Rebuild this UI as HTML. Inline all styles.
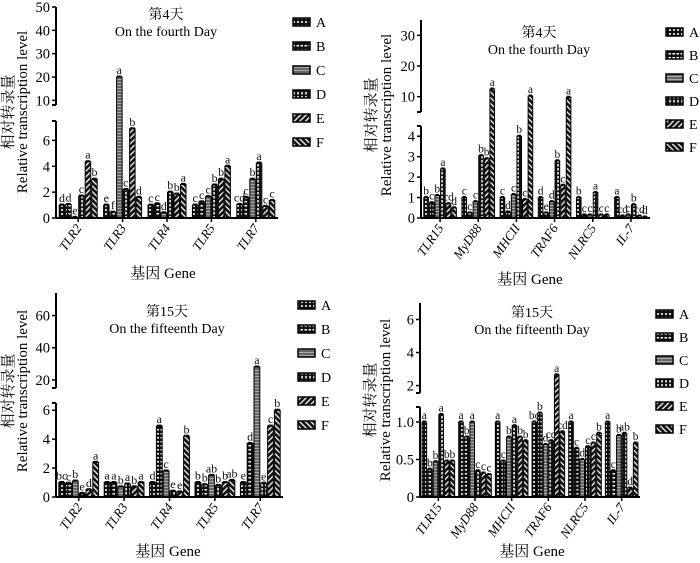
<!DOCTYPE html>
<html><head><meta charset="utf-8">
<style>
html,body{margin:0;padding:0;background:#fff;}
svg{display:block;font-family:"Liberation Serif","Noto Serif CJK SC",serif;}
</style></head>
<body>
<svg id="chart" width="700" height="563" viewBox="0 0 700 563" xmlns="http://www.w3.org/2000/svg">
<defs>
<pattern id="pA" width="4" height="4" patternUnits="userSpaceOnUse"><rect width="4" height="4" fill="#111"/><rect x="1" y="1" width="2" height="2" fill="#ccc"/></pattern>
<pattern id="pB" width="4" height="4" patternUnits="userSpaceOnUse"><rect width="4" height="4" fill="#111"/><rect x="0.5" y="1" width="2.5" height="1.5" fill="#fff"/></pattern>
<pattern id="pC" width="4" height="3" patternUnits="userSpaceOnUse"><rect width="4" height="3" fill="#666"/><rect y="1" width="4" height="1" fill="#aaa"/></pattern>
<pattern id="pD" width="4" height="4" patternUnits="userSpaceOnUse"><rect width="4" height="4" fill="#111"/><rect x="1.3" y="0" width="1.5" height="2.5" fill="#fff"/></pattern>
<pattern id="pE" width="4" height="4" patternUnits="userSpaceOnUse" patternTransform="rotate(45)"><rect width="4" height="4" fill="#111"/><rect x="1" width="1.5" height="4" fill="#ddd"/></pattern>
<pattern id="pF" width="4" height="4" patternUnits="userSpaceOnUse" patternTransform="rotate(-45)"><rect width="4" height="4" fill="#111"/><rect x="1" width="1.5" height="4" fill="#ddd"/></pattern>
</defs>
</svg>
<script>
const seriesNames=['A','B','C','D','E','F'];
// Panel 1
const p1Genes=['TLR2','TLR3','TLR4','TLR5','TLR7'];
const p1Values=[[1.0,1.05,0.05,1.7,4.35,3.0],[1.0,0.45,20,2.2,6.9,1.6],[1.0,1.1,0.4,2.0,1.85,2.6],[1.0,1.25,1.65,2.55,3.0,4.0],[1.05,1.6,3.0,4.25,0.9,1.35]];
const p1Letters=[['d','d','e','c','a','b'],['e','f','a','c','b','d'],['c','c','d','b','b','a'],['c','c','c','b','b','a'],['cd','c','b','a','c','c']];
const p1LowTicks=[0,2,4,6];
const p1HighTicks=[10,20,30,40,50];
// Panel 2
const p2Genes=['TLR15','MyD88','MHCII','TRAF6','NLRC5','IL-7'];
const p2Values=[[1.0,0.75,1.1,2.4,0.7,0.5],[1.0,0.25,0.8,3.05,2.9,12.5],[1.0,0.3,1.15,4.0,0.9,10.2],[1.0,0.25,0.8,2.8,1.6,9.8],[1.0,0.15,0.15,1.25,0.15,0.15],[1.0,0.1,0.15,0.65,0.1,0.05]];
const p2Letters=[['b','c','b','a','cd','d'],['c','c','c','b','b','a'],['c','d','c','b','c','a'],['d','e','d','b','c','a'],['b','c','c','a','c','c'],['a','cd','c','b','cd','d']];
const p2LowTicks=[0,1,2,3,4];
const p2HighTicks=[10,20,30];
// Panel 3
const p3Genes=['TLR2','TLR3','TLR4','TLR5','TLR7'];
const p3Values=[[1.0,0.95,1.1,0.25,0.5,2.4],[1.0,1.0,0.7,0.9,0.7,1.0],[1.0,4.9,1.8,0.4,0.35,4.2],[1.0,0.85,1.5,0.8,1.0,1.15],[1.0,3.7,28,0.95,4.9,6.0]];
const p3Letters=[['bc','c','b','e','d','a'],['a','a','b','a','b','a'],['d','a','c','e','e','b'],['b','b','ab','b','b','ab'],['e','d','a','e','c','b']];
const p3LowTicks=[0,2,4,6];
const p3HighTicks=[20,40,60];
// Panel 4
const p4Genes=['TLR15','MyD88','MHCII','TRAF6','NLRC5','IL-7'];
const p4Values=[[1.0,0.37,0.47,1.1,0.48,0.48],[1.0,0.8,1.0,0.35,0.32,0.3],[1.0,0.48,0.8,0.95,0.8,0.75],[1.0,1.12,0.7,0.75,2.65,0.87],[1.0,0.65,0.5,0.67,0.72,0.85],[1.0,0.35,0.82,0.85,0.12,0.72]];
const p4Letters=[['a','b','b','a','b','b'],['a','b','a','c','c','c'],['a','c','b','a','b','b'],['bc','b','d','cd','a','cd'],['a','c','d','c','c','b'],['a','c','b','ab','d','b']];
const p4LowTicks=[0,0.5,1.0];
const p4LowTickLabels=['0','0.5','1.0'];
const p4HighTicks=[2,4,6];

const svg=document.getElementById('chart');
const NS='http://www.w3.org/2000/svg';
function mk(tag,attrs,parent){const e=document.createElementNS(NS,tag);for(const k in attrs)e.setAttribute(k,attrs[k]);(parent||svg).appendChild(e);return e;}
function txt(s,attrs,parent){const e=mk('text',attrs,parent);e.textContent=s;return e;}

function drawPanel(name,cfg,genes,values,letters,lowTicks,highTicks,lowLabels){
  const g=mk('g',{});
  
  
  function y(v){
    if(v<=cfg.lowMax) return cfg.y0-(v/cfg.lowMax)*(cfg.y0-cfg.lowTopY);
    if(v<=cfg.highMin) return cfg.lowTopY-(v-cfg.lowMax)/(cfg.highMin-cfg.lowMax)*(cfg.lowTopY-cfg.highBotY);
    return cfg.highBotY-(v-cfg.highMin)/(cfg.highMax-cfg.highMin)*(cfg.highBotY-cfg.topY);
  }
  const band=(cfg.xEnd-cfg.x0)/genes.length;
  const bw=cfg.bw;
  genes.forEach((gene,gi)=>{
    const cx=cfg.x0+band*(gi+0.5);
    values[gi].forEach((v,si)=>{
      const bx=cx-3*bw+si*bw;
      const yt=y(v);
      const r=mk('rect',{x:bx+0.5,y:yt,width:bw-1,height:Math.max(cfg.y0-yt,0.5),fill:'url(#p'+seriesNames[si]+')',stroke:'#000','stroke-width':1},g);
      
      
      const c=mk('rect',{x:bx+1,y:yt-1.5,width:bw-2,height:2,fill:'#000'},g);
      
      
      const l=txt(letters[gi][si],{x:bx+bw/2,y:yt-3,'font-size':cfg.lf,'text-anchor':'middle',fill:'#111'},g);
      
      
    });
    mk('line',{x1:cx,x2:cx,y1:cfg.y0,y2:cfg.y0+4,stroke:'#000','stroke-width':1.5},g);
    const t=txt(gene,{x:cx+4,y:cfg.y0+10,'font-size':13,'font-style':'italic','text-anchor':'end',transform:'rotate(-55 '+(cx+4)+' '+(cfg.y0+10)+')'},g);
    
    
  });
  mk('line',{x1:cfg.x0,x2:cfg.xEnd,y1:cfg.y0,y2:cfg.y0,stroke:'#000','stroke-width':2},g);
  mk('line',{x1:cfg.x0,x2:cfg.x0,y1:cfg.y0,y2:cfg.lowTopY,stroke:'#000','stroke-width':2},g);
  mk('line',{x1:cfg.x0,x2:cfg.x0,y1:cfg.highBotY,y2:cfg.topY,stroke:'#000','stroke-width':2},g);
  mk('line',{x1:cfg.x0-4,x2:cfg.x0,y1:cfg.lowTopY,y2:cfg.lowTopY,stroke:'#000','stroke-width':2},g);
  mk('line',{x1:cfg.x0-4,x2:cfg.x0,y1:cfg.highBotY,y2:cfg.highBotY,stroke:'#000','stroke-width':2},g);
  lowTicks.concat(highTicks).forEach((v,i)=>{
    const yy=y(v);
    mk('line',{x1:cfg.x0-4,x2:cfg.x0,y1:yy,y2:yy,stroke:'#000','stroke-width':1.5},g);
    const lab=(lowLabels&&i<lowLabels.length)?lowLabels[i]:String(v);
    const t=txt(lab,{x:cfg.x0-6,y:yy+5,'font-size':14.5,'text-anchor':'end'},g);
    
    
  });
  const t1=txt(cfg.title1,{x:cfg.tx,y:cfg.ty,'font-size':14,'text-anchor':'middle'},g);
  
  
  const t2=txt(cfg.title2,{x:cfg.tx,y:cfg.ty+17,'font-size':14,'text-anchor':'middle'},g);
  
  
  const yl1=txt('相对转录量',{x:cfg.ylx1,y:cfg.ylc,'font-size':15,'text-anchor':'middle',transform:'rotate(-90 '+cfg.ylx1+' '+cfg.ylc+')'},g);
  
  
  const yl2=txt('Relative transcription level',{x:cfg.ylx2,y:cfg.ylc,'font-size':15,'text-anchor':'middle',transform:'rotate(-90 '+cfg.ylx2+' '+cfg.ylc+')'},g);
  
  
  const xl=txt('基因 Gene',{x:cfg.xlx,y:cfg.xly,'font-size':15,'text-anchor':'middle'},g);
  
  
  seriesNames.forEach((s,i)=>{
    const ly=cfg.lgy+i*cfg.lgs;
    const sw=mk('rect',{x:cfg.lgx,y:ly-4,width:17,height:8,fill:'url(#p'+s+')',stroke:'#000','stroke-width':1.5},g);
    
    
    const lt=txt(s,{x:cfg.lgx+23,y:ly+5,'font-size':14},g);
    
    
  });
}

drawPanel('panel-day4-tlr',{x0:56,xEnd:278,y0:218,lowMax:7.5,lowTopY:121,highMin:8,highBotY:105,highMax:50,topY:7,bw:6.5,lf:12,
  title1:'第4天',title2:'On the fourth Day',tx:166,ty:19,ylx1:13,ylx2:27,ylc:112,xlx:163,xly:278,lgx:293,lgy:22,lgs:24},
  p1Genes,p1Values,p1Letters,p1LowTicks,p1HighTicks);
drawPanel('panel-day4-immune',{x0:421,xEnd:650,y0:218,lowMax:4.5,lowTopY:126,highMin:5,highBotY:112,highMax:35,topY:20,bw:5.6,lf:11.5,
  title1:'第4天',title2:'On the fourth Day',tx:539,ty:37,ylx1:376,ylx2:391,ylc:115,xlx:530,xly:284,lgx:666,lgy:32,lgs:23},
  p2Genes,p2Values,p2Letters,p2LowTicks,p2HighTicks);
drawPanel('panel-day15-tlr',{x0:56,xEnd:283,y0:497,lowMax:6.5,lowTopY:403,highMin:15,highBotY:388,highMax:74,topY:293,bw:6.8,lf:12,
  title1:'第15天',title2:'On the fifteenth Day',tx:167,ty:316,ylx1:13,ylx2:27,ylc:391,xlx:168,xly:556,lgx:298,lgy:305,lgs:24},
  p3Genes,p3Values,p3Letters,p3LowTicks,p3HighTicks);
drawPanel('panel-day15-immune',{x0:420,xEnd:640,y0:497,lowMax:1.2,lowTopY:407,highMin:1.55,highBotY:393,highMax:7,topY:303,bw:5.6,lf:11.5,
  title1:'第15天',title2:'On the fifteenth Day',tx:532,ty:317,ylx1:375,ylx2:390,ylc:400,xlx:532,xly:556,lgx:656,lgy:314,lgs:23},
  p4Genes,p4Values,p4Letters,p4LowTicks,p4HighTicks,p4LowTickLabels);
</script>
</body></html>
